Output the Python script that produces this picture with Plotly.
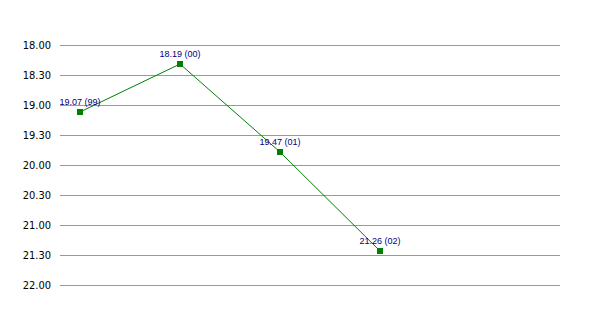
import plotly.graph_objects as go

seasons = ["99", "00", "01", "02"]
times = ["19.07", "18.19", "19.47", "21.26"]
tick_labels = ["18.00", "18.30", "19.00", "19.30", "20.00", "20.30", "21.00", "21.30", "22.00"]


def to_sec(s):
    m, sec = s.split(".")
    return int(m) * 60 + int(sec)


y_vals = [to_sec(t) for t in times]
tick_vals = [to_sec(t) for t in tick_labels]
x_vals = list(range(len(seasons)))
texts = [f"{t} ({s})" for t, s in zip(times, seasons)]

fig = go.Figure()
fig.add_trace(go.Scatter(
    x=x_vals, y=y_vals, mode="lines+markers+text",
    line=dict(color="#008000", width=1),
    marker=dict(symbol="square", size=6, color="#008000"),
    text=texts, textposition="top center",
    textfont=dict(family="Liberation Sans, Arial, sans-serif", size=9, color="#000080"),
    cliponaxis=False, hoverinfo="skip",
))

fig.update_layout(
    width=600, height=315,
    margin=dict(l=60, r=40, t=40, b=25),
    paper_bgcolor="white", plot_bgcolor="white",
    showlegend=False,
    xaxis=dict(range=[-0.2, 4.8], showgrid=False, showticklabels=False,
               zeroline=False, showline=False, ticks=""),
    yaxis=dict(range=[1325, 1075], tickvals=tick_vals, ticktext=tick_labels,
               showgrid=True, gridcolor="#999999", gridwidth=1,
               zeroline=False, showline=False, ticks="",
               ticklabelstandoff=8,
               tickfont=dict(family="DejaVu Sans Condensed, Liberation Sans, sans-serif",
                             size=11, color="#000000")),
)

fig.write_html("out.html")
